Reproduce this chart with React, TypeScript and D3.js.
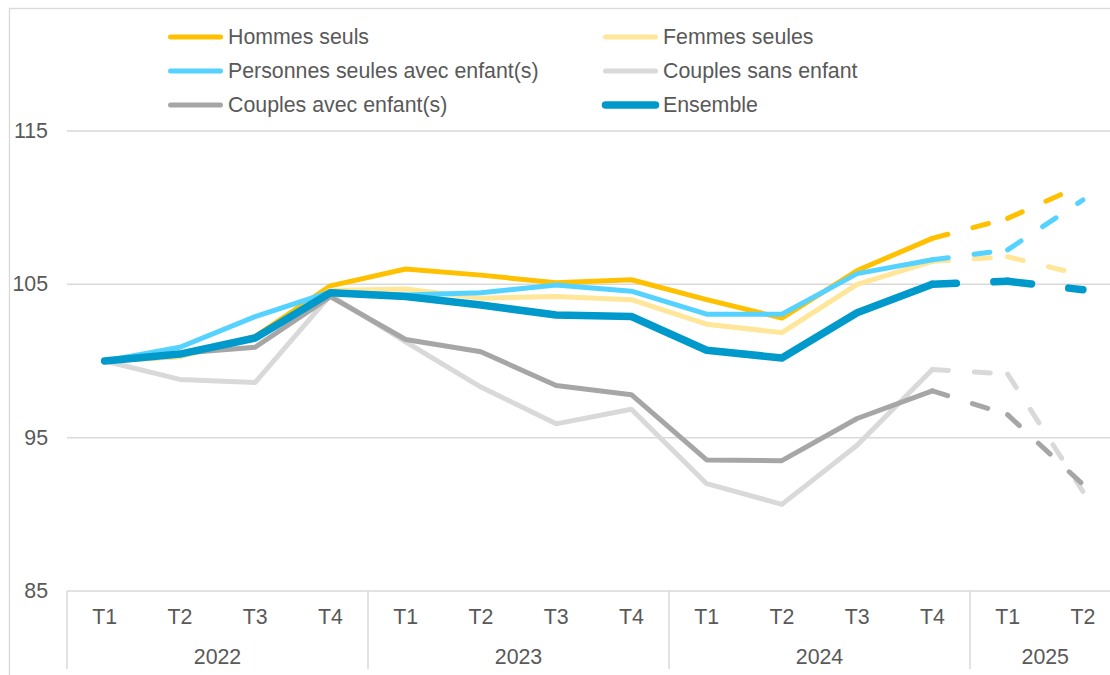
import React from "react";
import * as d3 from "d3";

const years = ["2022", "2023", "2024", "2025"];
const quartersPerYear = [4, 4, 4, 2];
const quarterNames = ["T1", "T2", "T3", "T4"];
const yTicks = [85, 95, 105, 115];

const seriesNames = [
  "Hommes seuls",
  "Femmes seules",
  "Personnes seules avec enfant(s)",
  "Couples sans enfant",
  "Couples avec enfant(s)",
  "Ensemble",
];
const seriesColors = ["#FFC000", "#FFE699", "#55D2FF", "#D9D9D9", "#A6A6A6", "#0099CC"];

const hommesSeuls = [100, 100.3, 101.6, 104.9, 106.0, 105.6, 105.1, 105.3, 104.0, 102.8, 105.9, 108.0, 109.3, 111.5];
const femmesSeules = [100, 100.3, 101.5, 104.6, 104.7, 104.1, 104.2, 104.0, 102.4, 101.85, 105.0, 106.5, 106.8, 105.6];
const personnesSeulesEnfants = [100, 100.9, 102.9, 104.5, 104.3, 104.45, 104.95, 104.55, 103.05, 103.05, 105.7, 106.6, 107.25, 110.5];
const couplesSansEnfant = [100, 98.8, 98.6, 104.3, 101.25, 98.3, 95.9, 96.85, 92.0, 90.65, 94.5, 99.45, 99.15, 91.5];
const couplesAvecEnfants = [100, 100.5, 100.9, 104.2, 101.4, 100.6, 98.4, 97.8, 93.55, 93.5, 96.25, 98.05, 96.5, 91.95];
const ensemble = [100, 100.45, 101.5, 104.45, 104.2, 103.65, 103.0, 102.9, 100.7, 100.2, 103.15, 105.0, 105.2, 104.65];

const seriesValues = [hommesSeuls, femmesSeules, personnesSeulesEnfants, couplesSansEnfant, couplesAvecEnfants, ensemble];
const lastObserved = 11; // T4 2024: dashed afterwards (forecast)

const TEXT = "#595959";
const GRID = "#D9D9D9";
const FONT = "'Liberation Sans', Arial, sans-serif";
const FS = 21.33;

export default function App() {
  const periods: { q: string; year: string; yi: number }[] = [];
  years.forEach((yr, yi) => {
    for (let k = 0; k < quartersPerYear[yi]; k++) periods.push({ q: quarterNames[k], year: yr, yi });
  });
  const n = periods.length;

  const left = 67;
  const bandW = 75.25;
  const x = d3.scaleBand<number>().domain(d3.range(n)).range([left, left + n * bandW]).padding(0);
  const cx = (i: number) => (x(i) as number) + x.bandwidth() / 2;
  const y = d3.scaleLinear().domain([85, 115]).range([591, 131]);

  const line = d3
    .line<[number, number]>()
    .x((d) => cx(d[0]))
    .y((d) => y(d[1]));

  const bounds: number[] = [0];
  quartersPerYear.forEach((c, i) => bounds.push(bounds[i] + c));

  const legendRows = [
    [0, 1],
    [2, 3],
    [4, 5],
  ];
  const legendX = [168, 603];
  const legendY = [37, 71, 105];

  return (
    <svg
      width={1110}
      height={675}
      style={{ position: "absolute", left: 0, top: 0, background: "#fff" }}
      fontFamily={FONT}
    >
      <rect x={9.5} y={8.5} width={1200} height={800} fill="#fff" stroke={GRID} strokeWidth={1.3} />

      {yTicks.map((t) => (
        <g key={t}>
          <line x1={left} x2={1120} y1={y(t)} y2={y(t)} stroke={GRID} strokeWidth={1.5} />
          <text x={48} y={y(t)} textAnchor="end" dominantBaseline="central" fill={TEXT} fontSize={FS}>
            {t}
          </text>
        </g>
      ))}

      {bounds.slice(0, bounds.length - 1).map((b) => (
        <line key={"s" + b} x1={x(b) as number} x2={x(b) as number} y1={591} y2={669} stroke={GRID} strokeWidth={1.5} />
      ))}
      {periods.map((p, i) => (
        <text key={"q" + i} x={cx(i)} y={617} textAnchor="middle" dominantBaseline="central" fill={TEXT} fontSize={FS}>
          {p.q}
        </text>
      ))}
      {years.map((yr, yi) => {
        const a = x(bounds[yi]) as number;
        const b = (x(bounds[yi + 1] - 1) as number) + x.bandwidth();
        return (
          <text key={yr} x={(a + b) / 2} y={657} textAnchor="middle" dominantBaseline="central" fill={TEXT} fontSize={FS}>
            {yr}
          </text>
        );
      })}

      {seriesValues.map((vals, si) => {
        const w = si === 5 ? 7.5 : 5;
        const dash = si === 5 ? "24 37.5" : "16 26";
        const solid: [number, number][] = vals.slice(0, lastObserved + 1).map((v, i) => [i, v]);
        const dashedSegs: [number, number][][] = [];
        for (let i = lastObserved; i < vals.length - 1; i++) {
          dashedSegs.push([
            [i, vals[i]],
            [i + 1, vals[i + 1]],
          ]);
        }
        return (
          <g key={si}>
            <path d={line(solid) || ""} fill="none" stroke={seriesColors[si]} strokeWidth={w} strokeLinejoin="round" strokeLinecap="round" />
            {dashedSegs.map((seg, k) => (
              <path
                key={k}
                d={line(seg) || ""}
                fill="none"
                stroke={seriesColors[si]}
                strokeWidth={w}
                strokeLinecap="round"
                strokeDasharray={dash}
              />
            ))}
          </g>
        );
      })}

      {legendRows.map((row, r) =>
        row.map((si, c) => {
          const w = si === 5 ? 7.5 : 5;
          const lx = legendX[c];
          return (
            <g key={si}>
              <line
                x1={lx + 2.5}
                x2={lx + 52.5}
                y1={legendY[r]}
                y2={legendY[r]}
                stroke={seriesColors[si]}
                strokeWidth={w}
                strokeLinecap="round"
              />
              <text x={lx + 60} y={legendY[r]} dominantBaseline="central" fill={TEXT} fontSize={FS}>
                {seriesNames[si]}
              </text>
            </g>
          );
        })
      )}
    </svg>
  );
}
